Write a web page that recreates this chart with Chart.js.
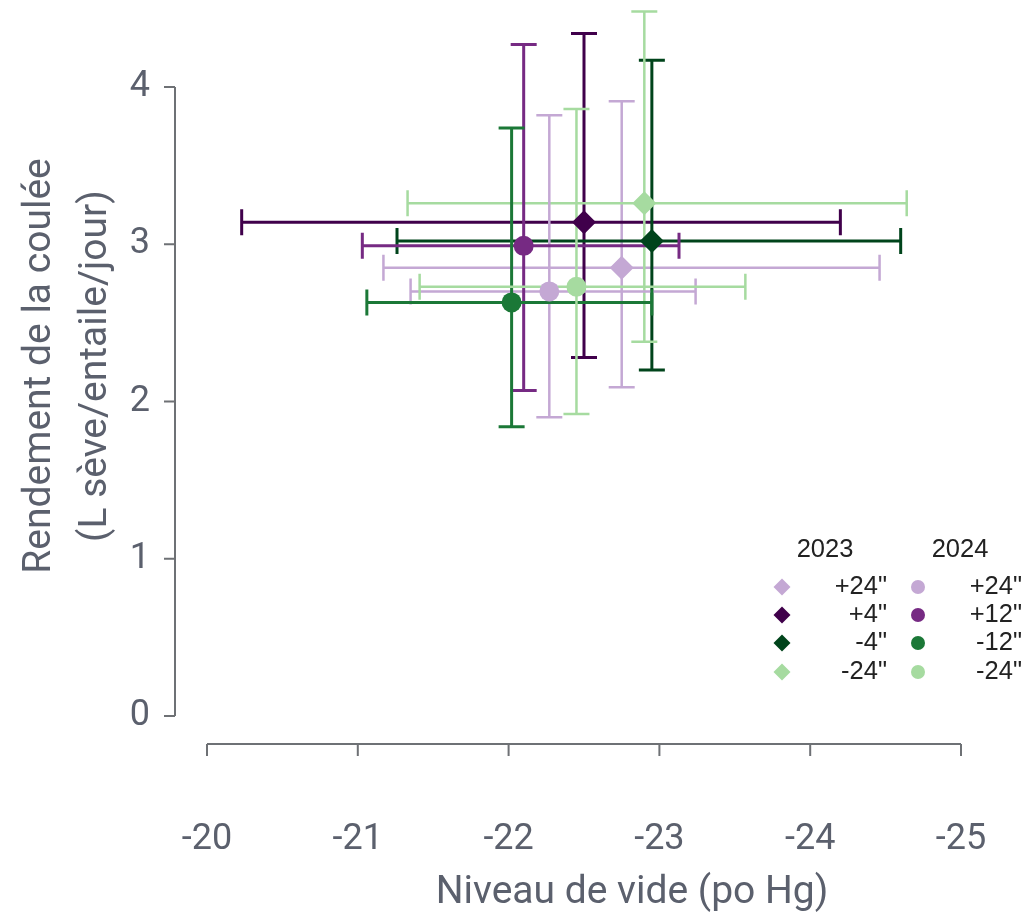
<!DOCTYPE html>
<html>
<head>
<meta charset="utf-8">
<script src="https://cdn.jsdelivr.net/npm/chart.js@4.4.1/dist/chart.umd.min.js"></script>
<style>
  html, body { margin: 0; padding: 0; background: #fff; }
  #wrap { width: 1033px; height: 916px; }
</style>
</head>
<body>
<div id="wrap"><canvas id="chart" width="1033" height="916"></canvas></div>
<script>
// axis ticks
const xTicks = [-20, -21, -22, -23, -24, -25];
const yTicks = [0, 1, 2, 3, 4];

// 2023 (diamonds)
const labels2023 = ['+24"', '+4"', '-4"', '-24"'];
const vide2023 = [-22.75, -22.50, -22.95, -22.90];
const videLo2023 = [-21.17, -20.23, -21.26, -21.33];
const videHi2023 = [-24.46, -24.20, -24.60, -24.64];
const rend2023 = [2.85, 3.14, 3.02, 3.26];
const rendLo2023 = [2.09, 2.28, 2.20, 2.38];
const rendHi2023 = [3.91, 4.34, 4.17, 4.48];

// 2024 (circles)
const labels2024 = ['+24"', '+12"', '-12"', '-24"'];
const vide2024 = [-22.27, -22.10, -22.02, -22.45];
const videLo2024 = [-21.35, -21.03, -21.06, -21.41];
const videHi2024 = [-23.24, -23.13, -22.95, -23.57];
const rend2024 = [2.70, 2.99, 2.63, 2.73];
const rendLo2024 = [1.90, 2.07, 1.84, 1.92];
const rendHi2024 = [3.82, 4.27, 3.74, 3.86];

const colors2023 = ['#c4a8d4', '#40004b', '#00441b', '#a6dba0'];
const colors2024 = ['#c4a8d4', '#762a83', '#1b7837', '#a6dba0'];

const axisColor = '#6e7175';
const textColor = '#5b606d';
const tickFont = { family: 'Roboto', size: 36 };

function makeSets(year, labels, xs, xLo, xHi, ys, yLo, yHi, colors, style, radius) {
  return labels.map(function (lab, i) {
    return {
      label: year + ' ' + lab,
      year: year,
      short: lab,
      data: [{ x: xs[i], y: ys[i], xMin: xLo[i], xMax: xHi[i], yMin: yLo[i], yMax: yHi[i] }],
      backgroundColor: colors[i],
      borderColor: colors[i],
      pointStyle: style,
      pointRadius: radius,
      pointHoverRadius: radius,
      pointBorderWidth: 0,
      clip: false
    };
  });
}

const datasets = makeSets('2023', labels2023, vide2023, videLo2023, videHi2023, rend2023, rendLo2023, rendHi2023, colors2023, 'rectRot', 12)
  .concat(makeSets('2024', labels2024, vide2024, videLo2024, videHi2024, rend2024, rendLo2024, rendHi2024, colors2024, 'circle', 10));

// error bars, drawn under the points
const errorBars = {
  id: 'errorBars',
  beforeDatasetsDraw(chart) {
    const ctx = chart.ctx, xs = chart.scales.x, ys = chart.scales.y;
    const cap = 13;
    ctx.save();
    chart.data.datasets.forEach(function (ds) {
      const light = ds.backgroundColor === '#c4a8d4' || ds.backgroundColor === '#a6dba0';
      ctx.strokeStyle = ds.borderColor;
      ctx.lineWidth = light ? 2.5 : 3;
      ds.data.forEach(function (p) {
        const px = xs.getPixelForValue(p.x), py = ys.getPixelForValue(p.y);
        const x0 = xs.getPixelForValue(p.xMin), x1 = xs.getPixelForValue(p.xMax);
        const y0 = ys.getPixelForValue(p.yMin), y1 = ys.getPixelForValue(p.yMax);
        ctx.beginPath();
        ctx.moveTo(x0, py); ctx.lineTo(x1, py);
        ctx.moveTo(x0, py - cap); ctx.lineTo(x0, py + cap);
        ctx.moveTo(x1, py - cap); ctx.lineTo(x1, py + cap);
        ctx.moveTo(px, y0); ctx.lineTo(px, y1);
        ctx.moveTo(px - cap, y0); ctx.lineTo(px + cap, y0);
        ctx.moveTo(px - cap, y1); ctx.lineTo(px + cap, y1);
        ctx.stroke();
      });
    });
    ctx.restore();
  }
};

// detached axis lines, axis titles and the two-column legend
const decorations = {
  id: 'decorations',
  afterDraw(chart) {
    const ctx = chart.ctx, xs = chart.scales.x, ys = chart.scales.y;
    ctx.save();
    ctx.strokeStyle = axisColor;
    ctx.lineWidth = 2;

    // y axis
    const yLine = 175;
    ctx.beginPath();
    ctx.moveTo(yLine, ys.getPixelForValue(yTicks[0]));
    ctx.lineTo(yLine, ys.getPixelForValue(yTicks[yTicks.length - 1]));
    yTicks.forEach(function (t) {
      const py = ys.getPixelForValue(t);
      ctx.moveTo(yLine - 11, py); ctx.lineTo(yLine, py);
    });
    ctx.stroke();

    // x axis
    const xLine = 744;
    ctx.beginPath();
    ctx.moveTo(xs.getPixelForValue(xTicks[0]), xLine);
    ctx.lineTo(xs.getPixelForValue(xTicks[xTicks.length - 1]), xLine);
    xTicks.forEach(function (t) {
      const px = xs.getPixelForValue(t);
      ctx.moveTo(px, xLine); ctx.lineTo(px, xLine + 12);
    });
    ctx.stroke();

    // axis titles
    ctx.fillStyle = textColor;
    ctx.font = '39px Roboto';
    ctx.textAlign = 'center';
    ctx.textBaseline = 'middle';
    ctx.fillText('Niveau de vide (po Hg)', 632, 893);
    ctx.translate(40, 366);
    ctx.rotate(-Math.PI / 2);
    ctx.fillText('Rendement de la coulée', 0, 0);
    ctx.fillText('(L sève/entaile/jour)', 0, 56);
    ctx.setTransform(1, 0, 0, 1, 0, 0);

    // legend
    ctx.fillStyle = '#222';
    ctx.font = '25.5px "Liberation Sans"';
    ctx.textAlign = 'center';
    ctx.fillText('2023', 825, 550);
    ctx.fillText('2024', 960, 550);
    const rows = [587, 615, 643, 672];
    chart.data.datasets.forEach(function (ds, i) {
      const is23 = ds.year === '2023';
      const row = rows[i % 4];
      const mx = is23 ? 782 : 918;
      ctx.fillStyle = ds.backgroundColor;
      ctx.beginPath();
      if (is23) {
        ctx.moveTo(mx - 8.5, row); ctx.lineTo(mx, row - 8.5);
        ctx.lineTo(mx + 8.5, row); ctx.lineTo(mx, row + 8.5);
        ctx.closePath();
      } else {
        ctx.arc(mx, row, 7, 0, Math.PI * 2);
      }
      ctx.fill();
      ctx.fillStyle = '#222';
      ctx.textAlign = 'right';
      ctx.fillText(ds.short, is23 ? 887 : 1022, row);
    });
    ctx.restore();
  }
};

new Chart(document.getElementById('chart'), {
  type: 'scatter',
  data: { datasets: datasets },
  options: {
    responsive: false,
    animation: false,
    events: [],
    layout: { padding: { top: 87, right: 72, left: 0, bottom: 0 } },
    plugins: { legend: { display: false }, tooltip: { enabled: false } },
    scales: {
      x: {
        type: 'linear',
        min: -25, max: -20, reverse: true,
        afterFit: function (s) { s.height = 200; s.paddingLeft = 0; s.paddingRight = 0; },
        afterBuildTicks: function (s) { s.ticks = xTicks.map(function (v) { return { value: v }; }); },
        grid: { display: false, drawTicks: false },
        border: { display: false },
        ticks: { color: textColor, font: tickFont, padding: 102 }
      },
      y: {
        type: 'linear',
        min: 0, max: 4,
        afterFit: function (s) { s.width = 207; s.paddingTop = 0; s.paddingBottom = 0; },
        afterBuildTicks: function (s) { s.ticks = yTicks.map(function (v) { return { value: v }; }); },
        grid: { display: false, drawTicks: false },
        border: { display: false },
        ticks: { color: textColor, font: tickFont, padding: 57 }
      }
    }
  },
  plugins: [errorBars, decorations]
});
</script>
</body>
</html>
